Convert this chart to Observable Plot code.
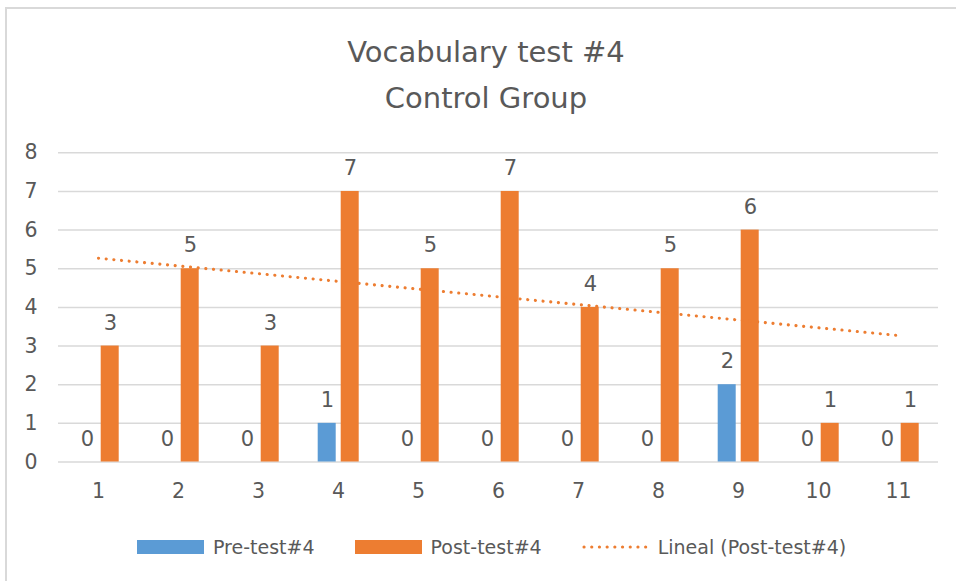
<!DOCTYPE html>
<html>
<head>
<meta charset="utf-8">
<script src="https://cdn.jsdelivr.net/npm/d3@7"></script>
<script src="https://cdn.jsdelivr.net/npm/@observablehq/plot@0.6"></script>
<style>
  body { margin: 0; background: #fff; font-family: "DejaVu Sans", sans-serif; }
  #frame { position: relative; width: 956px; height: 581px; overflow: hidden; background: #fff; }
  #border { position: absolute; left: 5px; top: 7px; width: 1200px; height: 1200px;
            border-left: 2px solid #d9d9d9; border-top: 2px solid #d9d9d9; pointer-events: none; }
  #title { position: absolute; left: 0; width: 972px; top: 29px; text-align: center;
           font-size: 29px; line-height: 46px; color: #595959; }
  #chart { position: absolute; left: 0; top: 120px; }
  #legend { position: absolute; left: 137px; top: 535px; height: 24px; display: flex; align-items: center;
            font-size: 19px; color: #595959; white-space: nowrap; }
  .item { display: flex; align-items: center; margin-right: 40px; }
  .sw { width: 67px; height: 14px; margin-right: 9px; }
</style>
</head>
<body>
<div id="frame">
  <div id="title"></div>
  <div id="chart"></div>
  <div id="legend"></div>
  <div id="border"></div>
</div>
<script>
// ---- data ----
const titleLines = ["Vocabulary test #4", "Control Group"];
const categories = [1, 2, 3, 4, 5, 6, 7, 8, 9, 10, 11];
const preTest = [0, 0, 0, 1, 0, 0, 0, 0, 2, 0, 0];
const postTest = [3, 5, 3, 7, 5, 7, 4, 5, 6, 1, 1];
const yTicks = [0, 1, 2, 3, 4, 5, 6, 7, 8];
const seriesNames = ["Pre-test#4", "Post-test#4", "Lineal (Post-test#4)"];
const seriesColors = ["#5B9BD5", "#ED7D31"];

const rows = categories.map((c, i) => ({ cat: c, pre: preTest[i], post: postTest[i] }));
const textColor = "#595959";
const dotDash = "0.1 7.6";

document.getElementById("title").innerHTML = titleLines.join("<br>");

const chart = Plot.plot({
  width: 956,
  height: 400,
  marginLeft: 58,
  marginRight: 18,
  marginTop: 32.3,
  marginBottom: 58.5,
  style: { fontFamily: "DejaVu Sans, sans-serif", fontSize: "20.5px", color: textColor, background: "transparent" },
  x: { domain: [categories[0] - 0.5, categories[categories.length - 1] + 0.5], ticks: categories,
       tickFormat: d => String(d), tickSize: 0, tickPadding: 21, label: null },
  y: { domain: [yTicks[0], yTicks[yTicks.length - 1]], ticks: yTicks, tickSize: 0, tickPadding: 21, label: null },
  marks: [
    Plot.gridY(yTicks, { stroke: "#d9d9d9", strokeOpacity: 1, strokeWidth: 1.5 }),
    Plot.rectY(rows, { x1: d => d.cat - 0.5, x2: d => d.cat + 0.5, y1: 0, y2: "pre",
                       fill: seriesColors[0], insetLeft: 19.7, insetRight: 42.3 }),
    Plot.rectY(rows, { x1: d => d.cat - 0.5, x2: d => d.cat + 0.5, y1: 0, y2: "post",
                       fill: seriesColors[1], insetLeft: 42.7, insetRight: 19.3 }),
    Plot.linearRegressionY(rows, { x: "cat", y: "post", ci: 0, stroke: seriesColors[1],
                       strokeWidth: 3.1, strokeDasharray: dotDash, strokeLinecap: "round" }),
    Plot.text(rows, { x: "cat", y: "pre", text: d => String(d.pre), dx: -11, dy: -23,
                      fontSize: 21, fill: textColor }),
    Plot.text(rows, { x: "cat", y: "post", text: d => String(d.post), dx: 12, dy: -23,
                      fontSize: 21, fill: textColor })
  ]
});
document.getElementById("chart").appendChild(chart);

// ---- legend ----
const legend = d3.select("#legend");
seriesNames.forEach((name, i) => {
  const item = legend.append("div").attr("class", "item");
  if (i < 2) {
    item.append("div").attr("class", "sw").style("background", seriesColors[i]);
  } else {
    const s = item.append("svg").attr("width", 67).attr("height", 14).style("margin-right", "9px");
    s.append("line").attr("x1", 2).attr("x2", 65).attr("y1", 7).attr("y2", 7)
      .attr("stroke", seriesColors[1]).attr("stroke-width", 3.1)
      .attr("stroke-dasharray", dotDash).attr("stroke-linecap", "round");
  }
  item.append("span").text(name);
});
</script>
</body>
</html>
